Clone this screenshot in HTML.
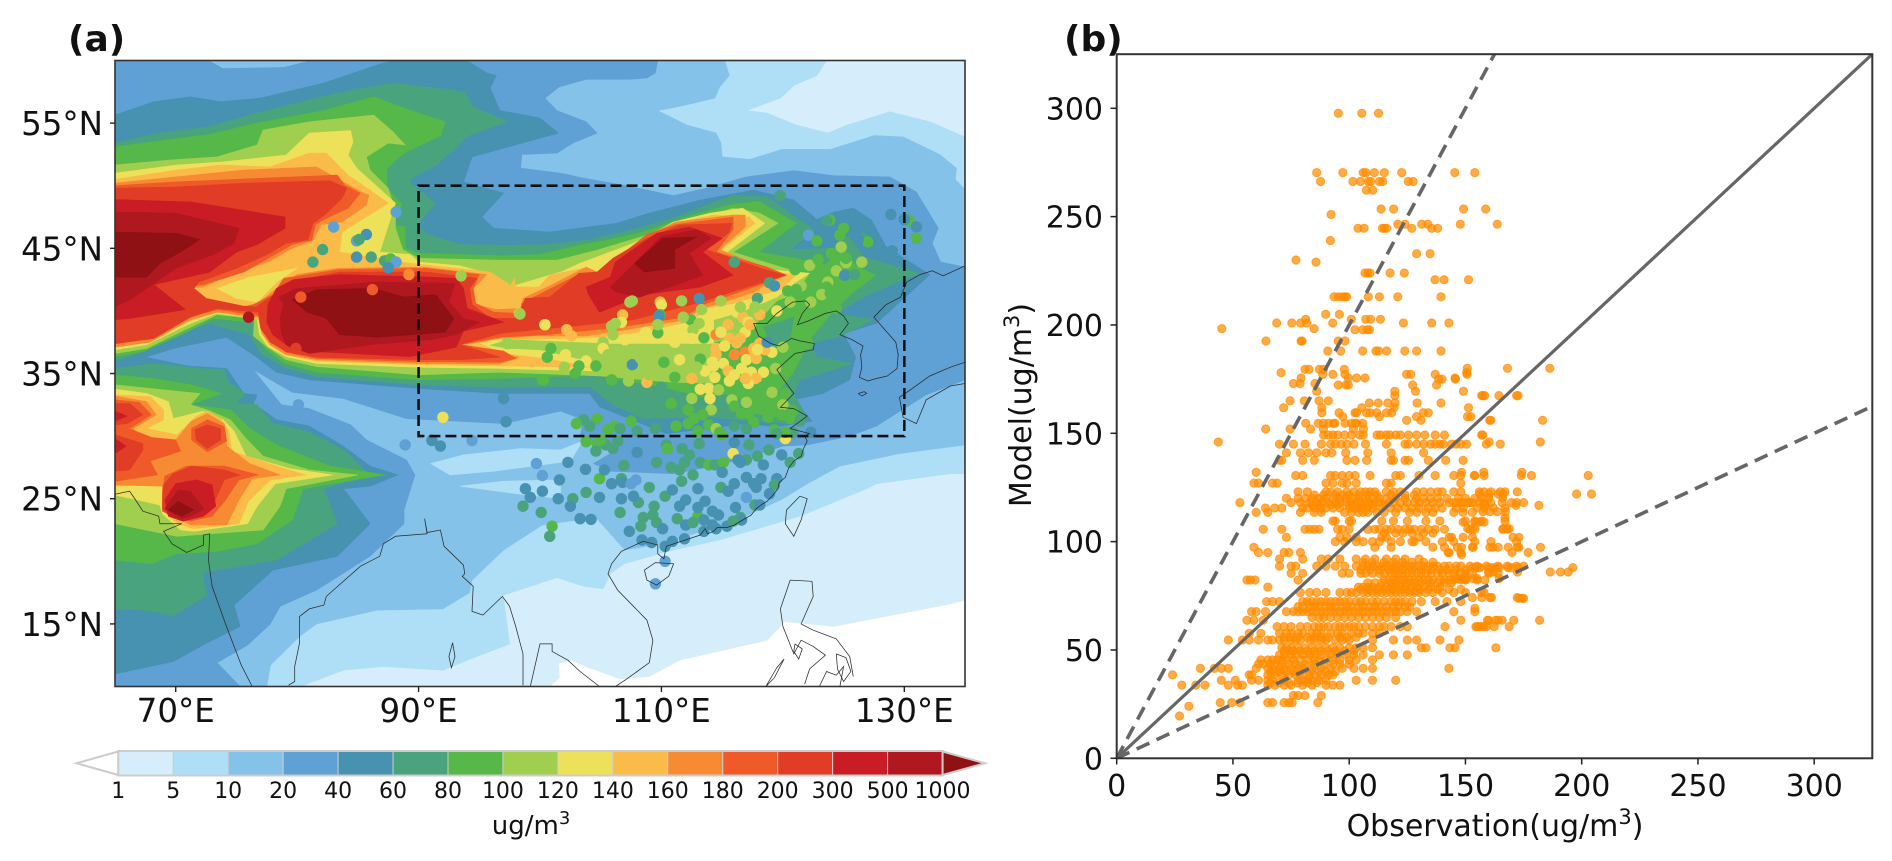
<!DOCTYPE html>
<html lang="en">
<head>
<meta charset="utf-8">
<title>PM concentration map and model-observation scatter</title>
<style>
html,body{margin:0;padding:0;background:#fff}
svg{display:block;font-family:"DejaVu Sans","Liberation Sans",sans-serif}
</style>
</head>
<body>
<svg id="figure" xmlns="http://www.w3.org/2000/svg" width="1892" height="861" viewBox="0 0 1892 861">
<rect width="1892" height="861" fill="#fff"/>
<defs><clipPath id="mapClip"><rect x="115" y="60.5" width="850" height="626"/></clipPath><clipPath id="scatterClip"><rect x="1116.7" y="54.2" width="755.6" height="704.1"/></clipPath></defs>
<g id="contours" clip-path="url(#mapClip)"></g>
<g id="stations" clip-path="url(#mapClip)"></g>
<g id="coast" clip-path="url(#mapClip)" fill="none" stroke="#2a2a2a" stroke-width="0.75"></g>
<g id="regionBox"></g>
<g id="mapAxes"></g>
<g id="colorbar"></g>
<g id="scatter" clip-path="url(#scatterClip)"></g>
<g id="refLines" clip-path="url(#scatterClip)"></g>
<g id="scatterAxes"></g>
<text x="68" y="51" font-size="36" font-weight="bold" fill="#111">(a)</text>
<text x="1064" y="51" font-size="36" font-weight="bold" fill="#111">(b)</text>
<text x="531" y="834" font-size="26" text-anchor="middle" fill="#111">ug/m<tspan font-size="18" dy="-10">3</tspan></text>
<text x="1495" y="836" font-size="30" text-anchor="middle" fill="#111">Observation(ug/m<tspan font-size="21" dy="-12">3</tspan><tspan dy="12">)</tspan></text>
<text transform="translate(1031 405) rotate(-90)" font-size="30" text-anchor="middle" fill="#111">Model(ug/m<tspan font-size="21" dy="-12">3</tspan><tspan dy="12">)</tspan></text>
</svg>
<script>
// ---------- Panel (a) data ----------
const levelValues=[1,5,10,20,40,60,80,100,120,140,160,180,200,300,500,1000];
const levelColors=["#d6eefb","#aedff7","#85c2e9","#5fa0d5","#4791b1","#49a47d","#55b848","#a0cf50","#ede15a","#fbbb48","#f68b33","#f05a28","#e03c26","#c91c24","#b0181f","#8f1114"];
const mapLonTicks=[70,90,110,130];
const mapLatTicks=[55,45,35,25,15];
// each region: [level index, flat lon,lat list]
const contourRegions=[
[0,[65,60,135,60,135,16.9,133.8,16.6,126.9,15.3,124.2,14.8,120,15.2,119.8,14.8,118.7,13.7,111.5,12.1,109,10.8,106.6,10.6,103.5,11.7,102.6,12.1,101.5,11.85,101.6,10.7,100.8,10,65,10]],
[1,[65,60,123.6,60,122.8,58.8,120.9,58,119.8,57,117,56,118.7,55.8,121.1,54.85,123.7,54.2,125.3,54.85,128.8,55.9,132.1,55.1,135,53.9,135,27,133.8,27,127.7,26.2,126.9,25.8,121.4,23.6,120,23.2,114.8,21.7,111,20.9,106.9,19.8,105.8,19,105.2,17.8,103.6,18,101.4,18.7,96.7,17.2,97,17,97.5,13.4,94.8,12.4,92,11.3,87.1,11.6,83.8,11.3,80.8,10.2,80.5,10,65,10]],
[2,[65,60,115.2,60,115.6,58.8,114.8,57.9,114.4,57,111.8,56.4,109.7,56,112.1,54.85,114.5,54.2,114.9,53.4,115,52.3,117.3,52.1,119.9,52.9,123.9,52.9,127.5,54,129.9,53.9,132.9,52.5,134.3,51.4,134.2,50.5,135,49.7,135,29.3,129.6,28.6,124.7,27.6,122,26.2,120,25,116,23.2,110,21.4,107,20.9,104.6,23.5,100.2,22.9,97,20.9,94.4,18.5,94.2,17.5,92,16.2,86.6,16.1,81.6,15,80.2,14,77.8,11.7,77.5,10,65,10]],
[3,[65,60,109.7,60,109.5,59,108.8,58.6,107.4,58.5,103.8,58.5,101.6,57.9,100.4,57,101.4,56,103.8,55.1,104.7,54.2,102.7,53.4,101.4,52.6,98.5,52.5,98.4,51.4,101.7,51,103.6,50.6,107.1,50,111,49.2,113.7,49.8,117,50.7,120.9,51.2,124.2,50.8,128.8,50.7,131,49.5,132.8,46.6,132.3,45.4,133,43.9,135,43.5,135,34.5,131.8,33.3,127.7,30.8,125.5,30,122,29.3,120,29.2,116.7,28.2,114.8,27.7,111,27,105.8,27.2,104.4,27.8,106.3,28.9,103.3,30,103.6,31.3,101.7,32,97,31,89,31.4,83.8,33,79.6,33.5,76.4,35.3,78.7,32.5,81,32.2,84.4,30.9,85.7,29.7,89,28.1,89.7,26.9,88.8,24.1,88.8,23,86,20.4,81.6,17.7,78.6,16.4,77.8,15,75.9,13.3,73.4,11.9,75.3,10,65,10]],
[4,[65,55.65,68.2,56.7,71.2,57.1,73.7,56.7,77,57,82.2,58.2,87.1,59.8,88,60,94,60,95.6,59,96.4,58.8,95.9,57.8,96.7,56,100,55.4,101.5,54.2,100,53.8,94.4,52.3,93.7,50.3,97,49.4,95.2,47.5,96.2,46.6,100.8,46.3,106.3,47,109,47.8,113.2,48.85,117.6,49.65,120.9,48.85,122.8,47.3,124.2,47.9,125.8,48.2,127.3,47.25,128.5,45.1,132.1,42.9,127.7,39,125,38.2,126,36.3,125.5,34.5,123.3,33.4,120.9,32.9,122.4,31.2,119.5,30.75,117,31,110.4,30.2,104.9,32.35,104.1,33.4,96.7,33.4,90,33.8,81,34.5,78.3,35.1,76.4,36.5,74.2,37.9,69.8,37,67.5,36.3,71,35.6,74.2,35.4,75.6,33.4,76.7,33.3,76.4,32.6,78.3,31.3,81,30.8,83.8,29.2,86,27.6,88.3,26.9,86,26,83.8,25.8,86,23,83.3,20.4,78,19.3,74.8,16.5,75.3,14.8,72.6,13.5,69.8,12,65,11]],
[5,[65,53.4,68.7,54.2,72.6,54.7,76.7,55.8,81,56.85,84.6,57.65,87.9,58.2,93.8,57.5,94.5,56.3,97.3,55.1,94.1,54,91.5,51.65,89.4,50.6,89.3,50.2,91.4,48.6,89.9,46.9,90.7,46.1,93.4,45.3,97,45.25,100.8,45.3,104.1,45.7,107.7,46.5,111.2,47.5,115.9,49.25,118.7,49.1,122.6,46.45,120.6,44.9,124.2,45,125.4,46,126.7,44.3,131.2,43,127,41.3,124.4,39.8,127.4,39.3,124.8,38,122.2,37.4,122.8,36.3,125.8,35.8,121.4,34.5,120.9,33.4,122,31.5,120.6,31,117.5,31.2,114,31.5,108.5,31.4,106,32.5,104.1,33.95,96.7,33.9,90,34.1,81.6,34.75,78.9,35.5,77,36.6,76.1,38.1,72.8,39,71.2,38.6,67.5,36.8,65,36]],
[5,[65,35.4,68.2,35.8,72,35.4,74,35.3,74.3,34.35,75.7,33.4,75,32.6,76.7,32.5,78,31,80.9,30.35,83.8,28.9,86,26.9,82.2,25.8,83.3,23,78.3,20.1,72.3,19.1,72.3,18.25,72.6,17.3,69.9,15.7,67.3,16.1,65,16.2]],
[6,[65,53.1,72.8,54.1,76.7,55,82.2,56,86.3,57.1,89.4,56,92.2,55.1,91.8,54,88.8,52.6,87.4,51.4,87.4,49.8,88.6,48.5,87.9,46.9,88.9,46.7,88.9,45,90,44.6,96.7,44.4,100,44.5,103.3,45.25,105.5,45.65,108.5,46.3,112,47.5,115.6,48.45,118,48.75,121.1,47,118,44.7,121,44.2,123.5,43.7,125,45,126,43.6,127.6,42.85,125.8,41.5,124.2,40.05,122.2,37.7,121,35.3,119.5,33.4,121.1,32.1,120.2,31.4,117.8,31.8,115.9,33.4,113.4,33.15,109.9,33.95,104.4,34.9,96.7,34.6,90,34.5,81.6,35.1,79,35.8,77.5,36.9,76.7,37.8,76.4,39.1,73.1,39.4,70.9,38.3,67.3,36.75,65,36.35]],
[6,[65,34.9,68.2,34.6,71.3,34.1,73.8,33.4,71.2,32.5,74.5,32.1,76.1,30.6,78.3,29.3,82.7,27.6,87.2,26.9,80.5,25.8,79.6,23.3,76.7,21.4,73.4,20.8,70,20.6,68,19.8,65,20.1]],
[7,[65,51.65,69.5,52.05,73.4,52.3,76.7,53.25,77.2,54.45,81,55.1,86.3,55.65,87.9,54.3,88.9,53.25,87.5,53.4,85.7,52.3,86,51.25,87.5,49.8,88.1,47.9,88.1,46.6,88.7,44.9,90,44.2,96.7,44.05,101.4,44.05,104.7,44.85,109.3,46.2,112,47,115.9,48.2,118.1,47.8,119.6,47,115.9,44.7,118.5,43.9,122.1,42.85,120.8,41.3,119.5,40.8,116.8,38,114.3,37.5,114.3,34.2,111,34.3,105,34.8,96.7,35.1,90,34.9,81.6,35.55,79.1,36.1,77.5,37.15,76.4,38,76.5,39.4,73.4,39.7,71.2,38.7,67.6,37,65,36.6]],
[7,[65,34.1,72,33.4,71.2,32.5,72.6,32.1,74.5,31.3,75.8,29.8,77.2,28.4,81,27.3,85,26.9,79.1,25.8,78.6,24.4,77.2,22.5,72.8,22.2,70.1,22,65,23]],
[8,[65,51,70.1,51.65,73.9,51.9,79.1,52.45,81,54.2,84.4,54.4,84.6,53.5,84.2,52.45,84.9,51.4,88.1,48.6,86.8,44.7,89.3,44.5,90,43.9,93.4,43.6,95.3,43.1,97.5,41.9,101.7,43.1,103.3,43.8,107.7,45.4,111,47.1,114,47.8,116.7,48.2,118.5,47,115.4,44.7,118.7,43.3,122.2,43,120.9,42.2,119.5,41.1,116.5,39.9,114.3,39.3,114.3,37.4,105.2,37.4,104.5,35.2,96.7,35.4,90,35.5,81.6,35.8,79.1,36.35,77.6,37.15,76.9,38.1,76.7,39.4,73.4,39.8,71.2,39,67.6,37.3,65,36.9]],
[8,[65,33.75,67.6,33.4,69.4,32.75,69.8,31.4,72.3,32,73.9,31.3,74.8,30.4,75.8,28.4,79.4,27.4,82.9,26.9,78.2,26.2,76.7,24.4,75.9,23,71.5,22.4,70.4,22.5,68.9,23.8,68.7,24.5,65,25.3]],
[9,[65,50.5,70.1,51.25,73.7,51.65,77.8,51.5,81,52.6,82.4,52.6,84.2,50.85,86,49.65,87.5,48.6,83.7,46.3,83.5,44.7,86.6,44.2,89.3,43.8,95.9,43.1,98,41.8,97.9,42.6,97.5,41.9,99.9,41.9,100.8,42.85,103.6,43.4,105.2,42.9,108.2,45.4,111,47,114.3,47.65,117.2,47.5,117.7,47,114.7,44.7,119.2,43.15,121.1,42.85,119.8,41.7,115.9,40.6,113.7,40.2,112.5,39.15,107.7,38.2,104.9,37.9,98.6,37.7,96.7,37.9,95,37.4,97,36.6,101,36.1,104.1,35.5,96.7,35.6,90,35.7,81.6,36,79,36.5,77.7,37.3,77.1,38.2,77,39.3,73.5,39.9,71.2,39.2,67.6,37.6,65,37.2]],
[9,[65,33.3,67.9,33.15,69,32.1,69,31.3,67.6,30.6,70.1,30.1,71.7,31.6,72.6,32,73.7,31.4,74.4,30.4,74.6,28.8,78.3,27.6,80.7,26.9,77.8,26.5,76,24.8,75.2,23,71.5,22.6,70.1,23,68.9,24.2,68.9,26.1,65,26]],
[10,[65,50.2,70,50.7,75.6,51.25,81.6,51.5,83.5,50.45,85.3,49.5,85.9,49.25,85.7,48.45,83.7,47.1,82,46.9,81.3,45.65,79.6,45,77.8,44,76.1,43.4,73.7,42.6,72.3,41.9,71.2,41.9,72.5,40.6,75.5,40.2,76.4,40.3,78.3,41.8,80,42.9,83.3,43.4,90.4,43.5,95.6,42.9,94.5,41.8,94.7,40.5,96.4,40.1,98.4,40.2,98.6,41,100.8,42,103.8,43.5,105.2,42.9,108.5,45.9,111.2,47.1,115.9,47.65,116.9,47.65,116.9,46.7,114.8,44.9,120,42.9,117.6,41.5,114.5,40.5,113.2,40.2,112,39.3,107.1,38.5,103.8,38,99.4,38,96.7,37.8,93.7,37.3,96.7,36.6,98.3,36.3,96.7,35.75,90,35.8,81.6,36.1,79.1,36.5,77.8,37.3,77.1,38.2,76.8,39.5,73.4,39.9,71.2,39.3,67.9,37.5,65,37.1]],
[10,[65,33.2,67.6,32.75,68.4,31.7,66.5,30.6,67.3,29.7,70,29.7,71.3,31.2,72.6,31.8,74,31,74.2,29.2,76.1,27.8,78.6,26.9,76.3,26.6,75.2,24.9,74.2,22.9,71.2,22.9,70,23.6,68.9,24,68.9,26,65,26.1]],
[11,[65,50,70,50.3,83.3,50.85,83.9,50.05,85.2,49.4,84.2,48.2,82.4,47.4,81.5,46.9,81.2,45.65,79.6,45.3,75.6,43.1,72.3,42.1,71.2,42,72.2,40.9,75.5,40.3,76.4,40.5,78,41.3,78.9,42.6,83.5,43.3,90.7,43.4,95,42.9,94.5,41.8,94.7,40.6,96.2,39.9,98.4,39.8,98.5,40.6,100.3,41.5,103.4,43,104.9,43,106.2,44.1,108.8,46.1,111.2,46.9,115.9,47.5,115.9,46.5,114.5,44.7,118.7,43.5,120.3,42.85,117,41.7,113.7,40.6,111.8,39.5,106.6,38.7,100.5,38.1,96.7,37.9,93.4,37.3,97,36.8,98,36.2,96.7,35.9,90,35.95,81.6,36.2,79.1,36.7,78,37.5,77.4,38.3,77,39.6,73.5,40.1,71.2,39.6,68,37.8,65,37.35]],
[11,[65,32.9,67,32.7,68,31.7,66.2,30.6,68,29.9,70,29.7,70.4,28.8,67.9,28,68.5,26.9,65,26.4]],
[11,[71.3,30.6,72.6,31.3,74,30.75,74.2,29.6,72.6,28.75,71.3,29.7]],
[11,[69.1,26.8,70.9,27.6,74,27.6,76.8,26.9,75.2,26.5,74.1,24.9,73,23.6,71.2,23.2,69.8,23.6,68.9,24,68.9,25.4]],
[12,[65,49.8,70,49.9,75.6,50.2,82.7,50.4,84.1,49.8,83.7,49,82.3,47.7,81.3,47,80.9,45.7,79.1,45.4,77.5,44.5,75,43.4,71.9,42.3,71.5,41.8,72.5,41,75.5,40.4,76.6,40.3,77.5,40.9,79.7,42.4,83.5,43.1,90.7,43.1,94.8,42.6,94.2,41.8,94.4,40.5,95.9,39.4,98.1,39.4,98.8,41,100.8,41.1,103.2,43,104.7,43.1,106,44.2,108.8,45.8,111.5,46.85,115.8,47,115.6,46.3,113.7,44.9,118.5,43.3,120.2,42.85,116.7,41.8,113.2,40.7,107.7,39.3,104.9,39,100.7,38.6,96.7,38.2,93.4,37.3,96.7,36.3,93.4,36.1,90,36.1,81.6,36.3,79.1,36.75,77.8,37.5,77,38.6,76.8,39.9,73.4,40.2,71.2,39.5,68.2,37.8,65,37.4]],
[12,[65,32.6,66.2,32.6,67.3,31.7,66,31,65,30.9]],
[12,[65,30.1,67.3,29.4,67.3,28.9,66.2,27.3,65,27.2]],
[12,[71.6,30.5,72.6,30.9,73.7,30.6,73.7,29.7,72.6,29,71.7,29.7]],
[12,[69,26.1,69.8,27,71.3,27.6,74,27.3,75.3,26.9,74,26.5,73.2,24.8,72.3,23.7,70.9,23.3,69.4,23.7,68.9,24.2]],
[13,[65,48.9,71.3,48.7,79,47.5,79,46.6,76.7,45.3,75,44.7,72.8,43.1,68.2,42.1,70.8,40.1,66.2,39.4,65,39.3]],
[13,[77.6,40.5,78.3,41.8,79.7,42.5,83.5,42.9,90.7,42.7,93.1,42.6,93.7,41.8,94,40.2,97,39.1,93.7,38.4,93.1,37.1,89.3,36.35,81.6,36.75,79.4,37.1,78,38.1,77.5,39.1]],
[13,[103.8,41.9,105.8,42.7,106.2,43.9,109.6,46.2,112.3,46.7,115,45.8,113.4,44.7,115.9,42.85,113.2,41.9,108.5,41.3,104.9,39.9,104,41.3]],
[13,[65,32,66,31.6,65,31.2]],
[13,[65,29.8,65.9,29.2,65,28.6]],
[13,[69.1,24.9,70,26.2,71.7,26.5,73,26.1,73.3,24.4,72.3,23.6,70.6,23.2,69.4,23.6]],
[14,[65,47.9,70,47.8,75.2,46.6,74.8,45.4,73.1,44.5,70,43.4,66.4,41,65,40.3]],
[14,[78.5,41.1,80,41.8,86.6,42.3,93,42.2,92.5,40.7,93.7,39.4,95,39.1,93.1,38.1,91,37.7,86,37.3,81,36.6,79.1,37.3,78.7,38.2,78.6,39.4,78.9,40.6]],
[14,[105.8,41.9,107.8,43.8,109.9,45.9,112.9,46.5,114.1,45.8,112.3,44.6,113.4,42.85,110.7,41.9,108.2,41.1,106.3,41.5]],
[14,[69.1,24.2,70.2,25.7,71.2,25.6,72.3,24.2,71.5,23.7,70.5,23.4]],
[15,[65,46.3,70.1,46.2,72,45.7,70.5,44.75,68.7,43.8,67.6,42.7,65,42.7]],
[15,[79.6,40.9,81.6,41.7,86.3,41.8,88.8,41.1,91.4,41.3,92.9,39.4,92.2,38.3,86.6,37.9,83.5,38.1,82.4,39.4,80.8,39.9]],
[15,[107.8,43.8,110.1,45.8,112.9,45.9,111.1,44.9,111.1,43.4,108.6,43.1]],
[15,[69.4,24.1,70.2,24.8,71.5,24.1,70.5,23.6]],
// detail patches drawn above the nested levels
[7,[95.9,37.25,97.5,37.7,100,37.6,105.2,37.4,105.2,35.3,104,36,100,36.9,97.5,37]],
[8,[73.4,41.8,76.1,42.7,80,43.4,78.3,42.3,76.7,40.7,75,41]],
[5,[118.4,38.7,120.9,39.5,120.6,37.9,119.2,37.1]],
[2,[72.8,60,73.9,59.4,78.9,59.5,81,60]],
[1,[91,27.8,93.7,28.5,98.4,29,101.7,28.9,103.5,29.6,102.5,28,96.2,27.2,92.6,26.9]],
[1,[93.4,26,97,26.4,101.7,26.5,101.7,25,98.1,25.4]]
];
// each station: [longitude, latitude, concentration]
const stationRecords=[
[88.15,47.9,30],[83,46.7,30],[85.7,46.1,50],[84.9,45.6,30],[85.1,45.7,70],[82.1,44.9,70],[81.3,43.9,70],[84.9,44.3,50],[86.1,44.3,70],[87.2,44,70],[87.7,44.15,90],[88.15,43.9,30],[87.5,43.45,50],[89.2,42.9,170],[93.5,42.8,110],[80.3,41.1,190],[86.2,41.7,190],[76,39.5,700],[79.9,37,250],[98.3,39.8,150],[98.35,39.75,110],[100.4,38.9,130],[97.4,37.4,110],[100.9,37,90],[100.6,36.3,90],[100.3,34.5,90],[80.1,32.5,30],[92,31.5,130],[97,33,50],[97.2,31.15,50],[88.9,29.3,30],[91.1,29.65,50],[91.8,29.2,50],[94.4,29.65,30],
[119.76,49.2,70],[123.87,47.25,90],[123.6,47.2,70],[128.9,47.7,50],[130.2,47.3,90],[130.4,47.2,90],[131,46.7,50],[131,45.8,90],[130,47.3,50],[122.1,46.05,30],[122.8,45.6,90],[125,46.6,90],[126.9,46.6,50],[126.6,45.8,70],[127,45.5,90],[124.7,46.05,90],[124.8,45.1,110],[116,43.9,60],[122.2,43.65,110],[126.5,43.9,110],[125.2,43.85,110],[124.4,43.2,110],[125.1,42.85,50],[123.7,42.3,110],[123.6,41.9,90],[123.2,41.3,110],[123.9,41.4,90],[121.5,42,110],[118.9,42.25,70],[119.3,42,40],[120.4,41.6,90],[121.2,41.2,90],[120.6,40.7,110],[122,41.1,90],[124.4,40.2,90],
[107.4,40.7,110],[107.6,40.8,110],[109.9,40.7,150],[110,40.5,130],[111.66,40.8,110],[113.1,41,50],[114.9,40.8,110],[113.3,40.1,110],[112.4,39.3,90],[109.9,39.7,90],[109.8,39.6,50],[106.8,39.67,150],[106.7,39.1,130],[105.9,38.8,110],[106.2,39,110],[106,38.1,110],[100.4,38.9,130],[102.2,38.5,150],[102.6,38,150],[105.2,37.5,110],[105.2,37,130],[97.25,37.4,110],[102.1,36.5,130],[104.1,36.5,110],[103.8,36,130],[103.2,35.6,90],[104.6,35.6,90],[102,35.5,110],[102.9,35,90],[100.2,34.5,90],[107.6,35.7,50],[109.7,38.25,90],[111.1,37.5,130],[112.6,38.5,110],[112.5,37.8,130],[113.5,37.85,90],[114.5,38.1,170],[115.6,37.8,150],[116.2,37.45,150],[115.5,38.9,150],[116.2,39.9,130],[116.7,39.5,150],[117.15,39.1,130],[116.9,38.3,130],[117.9,41,60],[119.5,40,130],[118.1,39.7,150],[116.5,40.3,110],[117.7,40.3,110],
[114.5,37,150],[114.5,36.5,150],[116,36.5,170],[116.9,36.7,170],[117,36.1,130],[117.7,36.7,150],[117.8,36.2,150],[117.6,37,150],[118.1,37.4,150],[119.1,36.7,130],[118.5,36.9,150],[118.7,37.5,50],[120,37.1,110],[122.1,37.4,90],[111.5,36.1,130],[113.2,36.15,90],[114.2,35.9,130],[115.1,35.8,130],[115.5,35.2,150],[116.6,35.4,130],[117.4,35.1,130],[118.4,35.1,130],[117.8,34.6,150],[117.15,34.2,130],[115.6,34.4,130],[114.4,34.7,130],[112.5,34.6,150],[111.1,34.7,90],[108.8,34.3,150],[109,34.9,110],[107.3,34.4,110],[105.9,34.5,90],[113.2,33.75,130],[113.9,33.8,130],[114,33,130],[114.7,33.7,110],[112.5,33,110],[115.8,32.9,110],[117,32.7,110],[114.1,32.1,110],[119.1,33.5,110],[120.2,33.4,90],[118.3,33.9,90],[119.4,35.4,110],[110,33.9,70],[110.8,32.6,90],[112.2,32.1,90],[113.4,31.7,90],[116.6,31.8,90],[117.2,31.8,90],[118.4,32.2,90],[119.5,32.3,90],[120,32.5,110],[120.8,32,90],[117.6,31.1,90],[112.2,31,90],[111.2,30.8,90],[113.9,30.9,90],[114.5,30.6,110],[114.8,30.3,90],[107.5,31.2,90],[104.7,31.4,90],[103.6,31.3,70],[104.1,30.8,70],[105.6,30.5,90],[106.1,30.8,90],[106.6,30.6,70],[109.5,30.6,70],[117,30.6,70],[119.3,30.5,90],[120.8,30.3,70],[122.3,30.3,50],[120.2,29.8,130],[103,31,90],
[103.8,29.55,90],[104.7,29.4,90],[104.6,28.8,70],[105.4,29.3,70],[106.4,29.6,70],[110.4,29.3,70],[110.5,29,90],[111.7,29,70],[113.1,29.4,70],[112.3,28.5,70],[113.2,27.9,70],[111.9,27.9,70],[113.9,27.7,90],[114.4,27.7,70],[115.1,27.9,90],[115.9,28.6,130],[116.3,28.1,50],[117,28.1,70],[117.9,28.4,70],[118.85,28.9,70],[119.9,28.5,50],[117.2,29.3,70],[116,29.5,50],[120.6,27.9,70],[121.3,28.6,70],[99.7,27.8,30],[102.3,27.9,50],[100.2,26.85,30],[103.75,27.35,50],[101.6,26.5,50],[104.9,26.6,90],[105.3,27.3,50],[106.9,27.66,70],[106.7,26.6,70],[105.9,26.2,50],[106.8,26.3,50],[107.5,26.2,30],[107.9,26.5,30],[98.8,25.8,50],[99.2,25.1,50],[100.2,25.6,50],[98.6,24.4,70],[100.1,23.9,70],[101,22.8,90],[100.8,22,70],[101.5,25,50],[102.7,25,70],[102.5,24.4,50],[103.8,25.5,70],[104.9,25.1,50],[103.3,23.4,50],[104.2,23.35,50],[106.6,23.9,70],[108.1,24.7,70],[107.35,22.4,50],[108.3,22.8,70],[109.4,24.4,70],[109.3,23.7,70],[109.6,23.1,70],[110.1,22.6,50],[110.3,25.2,70],[111.5,24.4,50],[111.3,23.4,70],[113,25.8,50],[111.66,26.4,70],[112.6,26.9,70],[111.5,27.3,70],[115,27.1,50],[114.9,25.9,70],[113.6,24.8,50],[113,23.6,90],[112,22.9,50],[112.6,23.1,70],[113.5,23.3,50],[113.5,22.4,40],[114.5,22.6,50],[114.7,23.7,50],[115.4,22.8,50],[116.5,23.5,70],[116.6,23.3,50],[116.1,24.3,50],[117,25.1,30],[117.7,24.5,70],[118.1,24.5,50],[117.6,26.2,50],[118.2,26.6,50],[119.5,26.6,50],[119.3,26.1,70],[118.9,25.4,50],[108.4,21.7,50],[109.2,21.5,50],[110.3,21.2,40],[110.9,21.6,50],[111.9,21.8,50],[110.3,20,30],[109.5,18.2,30],
[114.9,38.3,130],[115.2,37.2,130],[116.5,37.8,150],[117.3,38.9,150],[113.6,35.2,130],[114.3,35.6,130],[116,34.9,130],[116.9,34.6,150],[117.9,36.9,130],[112.9,35.5,110],[111.9,35.3,110],[110.2,35.9,90],[109.4,36.6,110],[108.3,36.2,110],[106.7,36,110],[105.6,36.5,110],[107,37.7,130],[108.7,38.3,130],[109.7,38.9,110],[111.8,39.5,110],[113.1,39,110],
[124,44.6,90],[125.2,44.2,90],[122.9,44.1,90],[121,43.3,90],[122.3,40.7,110],[121.1,41.7,90],[125.9,42.9,70],[127.5,44.6,50],[126.2,45.7,50],[129,44.8,50],
[116,30.8,70],[115,30.1,90],[113,30.4,90],[112.7,31.4,90],[116,32.4,90],[118.8,31.5,90],[119.9,31.7,90],[120.6,31.4,90],[121.4,31.2,70],[120.2,30.3,90],[119.5,30.2,70],[108,30.4,70],[105,29.7,90],[106,29,70],[108,28.7,50],[109.6,27.9,70],[110.8,27.5,70],
[117,26.7,50],[118.4,27.7,50],[116,26.2,50],[115.5,25.6,50],[116.5,27.9,50],[114.2,24,50],[113,24.3,50],[112,24.9,50],[110.9,25.7,50],[109,25.9,70],[107.7,25.2,50],[108.5,23.5,70],[106.7,25,50],[114.2,22.9,50],[115.9,23.2,70],[117.8,25.9,50]
];
// coastlines as lon,lat polylines
const coastlines=[
[65,25.35,66.2,25.6,66.7,24.9,67.3,24,68.6,23.6,68.7,23,70.5,23,69,22.4,69.7,21.4,70.9,20.7,72.3,21.3,72.3,22.1,72.8,22.2,72.7,20.1,73,18,74.1,15,75.4,11.7,76.3,10],
[79.3,10.1,79.8,10.4,79.8,11.6,80.2,13.5,80.2,15.6,81,16.2,82.2,16.5,82.4,17.2,85.2,19.6,86.8,20.4,87.1,21.4,88.1,22,90.7,22.2,90.5,23.4,90.7,22.3,91.8,22.5,92.1,21.2,93.7,19.7,93.8,19,93.6,18.8,94.5,18,94.4,16,95.3,15.7,96.9,17.2,97.5,16.4,98,14.8,98.6,12.6,98.6,10.1],
[99.2,10,100,13.4,101,13.4,101,12.8,102.3,12.1,103.3,11.2,104.9,10],
[106.2,10,107,10.5,109,11.9,109.3,13.7,108.8,15.3,106.4,17.7,105.6,19,105.9,19.8,106.7,20.8,108.5,21.6,109.7,21.3,109.7,20.6,110.2,20.2,110.4,21.2,113.2,22.1,113.6,22.6,113.8,22.2,114.3,22.4,114.6,22.7,115.4,22.7,116,22.9,116.7,23.3,117.4,23.7,117.8,24.2,118.2,24.5,118.7,24.8,119.2,25.3,119.6,25.8,119.7,26.3,120.2,26.7,120.5,27.5,120.9,28,121.5,28.4,121.7,29,122,29.6,121.8,30,122.2,30.2,120.6,30.6,122,31.6,120.9,32.2,119.8,32.3,120.9,33.4,120,34.6,119.5,35.3,120.3,36,121,36.6,122.5,36.9,122.6,37.4,121.4,37.6,120.7,37.8,119.7,37.2,119,37.4,118,38,117.6,39,118.7,39,119.5,39.8,120.8,40.7,121.9,40.8,122.2,40.5,121.6,39.8,121.2,38.9,122.1,39.2,123.5,39.8,124.4,40,125,39.6,125.4,39,125.1,38.6,124.7,38.1,125.7,37.7,126.6,37.2,126.4,36.5,126.5,35.5,126.3,34.7,127,34.4,127.7,34.6,128.6,34.8,129.4,35.4,129.5,36.5,129.3,37.5,128.3,38.6,127.5,39.5,128.5,40.5,129.7,41.1,130.2,42.3,131.3,42.9,132.3,43.2,133.2,42.8,135,43.6],
[135,35.9,133.8,35.5,132.1,34.8,130.5,33.7,129.6,33.1,129.9,31.5,131,31,131.8,32.9,133.8,34,135,34.2],
[126.2,33.4,126.7,33.55,126.9,33.4,126.5,33.2,126.2,33.4],
[121.4,25.2,122,25,121.5,23.3,120.9,22,120.2,23,120.3,24.1,121.4,25.2],
[108.6,19.3,109.5,19.9,111,19.8,110.6,18.8,109.6,18.1,108.8,18.5,108.6,19.3],
[120.6,18.5,122.4,18.4,122.5,17.2,121.5,15,122.5,14.5,124.4,13.8,125.5,12.4,125.8,10.8],
[120.6,18.5,119.8,16.2,120,14.8,120.9,12.6,121.5,13.7,122.5,13.2,123.5,12.5,122.2,11.4,121.8,10.2],
[118.6,10,119.5,11.5,120.1,12.2,119.3,10.7,118.6,10],
[123,10,123.6,11.2,124.4,10.9,125,11.6,124.7,10],
[121,13.4,121.6,13,121.3,12.2,120.9,12.8,121,13.4],
[124.4,12.6,125.2,12.3,125.6,11.2,125,10.4,124.5,11.4,124.4,12.6],
[92.8,13.5,93,12.4,92.7,11.5,92.5,12.4,92.8,13.5]
];
const boxLon=[90,130];
const boxLat=[30,50];
// ---------- Panel (b) data ----------
const scatterXTicks=[0,50,100,150,200,250,300];
const scatterYTicks=[0,50,100,150,200,250,300];
const refSlopes=[1,2,0.5];
// rows of the scatter: modelLevels[i] is the modelled value shared by all observations obsAtLevel[i]
const modelLevels=[297.7,270.3,266.2,262.2,253.5,251,246.5,244.6,239,232.9,230,229,224,220.9,213,204.9,202.6,200.9,197.8,198.3,192.6,188,180,179.5,178,177.2,175.5,175,173,172.3,169.4,167.4,165,164,161.8,159.5,157.7,156,154.6,152,149.2,146,145,141,137.5,132,130.5,127,123,122,120,118,116.7,115.5,113.8,113.5,111,109.5,109,106,105.7,102,100,97.4,95,94,92,88.7,88,86,85.4,83,82.3,79,76.5,74.2,73.8,72.3,69.2,67.7,63.7,60.8,57.7,54.6,51,47.7,45.4,41.5,38.5,36,33.8,29,25.7,24,19.5,
70,65,55.8,49.5,43.5,40,34.9,78,81,87,90.5,117,121.5,104];
const obsAtLevel=[
[95.3,105.4,112.6],
[86,97.3,106,107.2,110.8,115.1,122.6,145.4,154],
[87.7,101.6,104.8,108.2,109.2,113,114.4,125.4,127.5],
[107.4,110.1],
[113.7,119.1,149.2,158.7],
[92.2],
[120.9,124,131.2,133.8,147.8,163.7],
[103.8,106.4,114.3,115.1,116.1,126.9,135.5,138],
[91.9],
[129,134.8],
[77.1],
[85.7],
[106.8,108,109,117.6,123.7],
[136.9,140.8,151.3],
[93.5,95.3,97.1,98.2,98.9,108.2,113,120.9,139.5],
[89.9,95.8],
[81.3,100.9,107.1,109.2,113.4],
[68.8,75.3,79.1,81.7,92.9,123.3,135.5,142.9],
[102.5,105.8,107.8,108.7],
[45.2,84.9],
[64.2,79.3,79.7,95.3,98.2],
[90.8,96.3,105.8,111.5,112.7,116.1,123.9,129,139.5],
[150.8,168.1,186.3],
[81,82.7,87.2,88.9,97.9],
[70.7,150.5],
[88.6,93,98.2,124.7,126.5,137,150.7],
[79.3,99.6,103.2,106.8,145.5],
[138.5,139.9,145.7],
[76,78.9,85.3],
[95.3,98.6,99.6,127.3,137.6],
[86,119.6,128.5,149.1],
[119.6,157,157.4,158.3,164.4,172,172.6],
[74.6,80.7,87,91],
[108.7,112.5,116.6,119.7,129.2,139.5],
[71.8,88.2,105.4,119.3,151.3],
[88.2,95.6,102.5,103.2,107.5,109,111.8,116.1,118.3,131.9,134],
[97.2,113,129,150.9,152.3],
[124.7,130.9,160.4,160.9,183.2],
[81.3,86.7,88.9,91,93.2,93.9,98.2,101,102.5,103.2,105.8],
[64.1,74.6,83.4,88.9,101.8,106.1],
[89,91,93,95,98,101,104.5,106,112,113.5,116,117.5,120,122,125.5,129,132.5,137,141,157,157.4],
[43.7,160.2,182.2],
[70,76,81,88,92,94,96.5,99,102,107,116,124,125.5,129,132,135,137,139,140.5,144,146,148,150.5,159,165],
[73,79,82.5,86,90,92.5,98.5,108,118,132],
[70,71,80,85,99,102.5,107.5,118,119,124,125.5,134,141.5,149],
[60,148.3,157.9,174.3],
[77,80,92,94,97,100,102.5,109,120,122,130,137,145,148,153.8,154,158,174,178.4,202.8],
[59,61,67,69,90,93,97,99,103,116,118,148],
[78,82,90,92,95,99,102,105,107,109,111,116,119,122,129,132,135,138,140,145,148,156,158,161,165,167,172.3],
[156.2,160.1,164.1,166.2,197.8,204.2],
[73,78,81,84,87,90,93,96,98.5,101,104,107,110,113,116,120,124,129,132,135,138,142,147,150,154,157,160,166],
[53,75,79,83,86,88,91,94,96,99,101,103,105,107,109,111,113,117,119,122,125,128,130,133,136,139,143,145,146,148,149,151,152,153,156,158,160.8,165.8,169.8,172,175],
[158.4,171.7,181.6],
[64,68,71,80,82,85,88,90,93,96,100,102,104,106,108,110,114,118,121,124,127,130,134,137,140,146,149,155,158,162,167],
[157.6,160.5,163.7,167.2],
[60,65,79,85,88,98,101,104,106,108,112,115,120,126,129,133,136,145,149,153],
[167],
[93,94,100,101,114,119,125,133,139,150,154,157,167],
[149,154,156,158],
[151,153,166.2,167.7,168.8],
[63,71,81,83,85,87,95,97,100,108,111,113,116,118,121,124,126,128,131,134,137,141,152,154,166,168],
[73,96,99,103,114,116,130,143,144,149,153,170.5,173],
[94,98,103,106,110,113,118,122,127,128,133,140,145,154,161,172],
[59,111,118,136,141,146.5,148.3,153,153.3,160.5,161.7,164.1,168.4,172.3,173,182.3],
[61,65,72,74,79,142.6,143,148,170,177],
[148.3],
[70,80,88,91,96,103,107,111,116,120,124,130],
[70,75,77,86,90,94,98,103,106,108,110,112,114,116,118,120,122,124,126,128,130,132,134,136,138,141,143,146,148,152,155,159,164,168,172,175],
[153.3,154.5,155.5,156.2,159.8,161.2,162.7,164.5,168.4,169.8,172.7,196.2],
[160,162,172.4,186.5,190.9,194.2],
[75,80,97,100,105,107,110,113,115,118,119.5,121,123,125,127,129,131,133,135,138,140,143,145,148,150,153,160,164],
[146,147,148.5,150,150.5,153.3,155,164.5],
[56,57.5,59.5,78,115,117,119,121,122.5,124,126,128,130,132,134,136,139,141,143,145,148,150,155,158.4],
[65,104,106,108,110,113,116,118,120,122,124,127,129,132,135,139],
[79,83,86,90,96,99,101,103,106,108,110,112,114,116,118,120,122,124,126,128,130,133,136,140,145,150,157,158],
[153,157,160.5,161.2,172.3],
[173,174.4,175],
[64.5,67,70,80,82,84,86,88,90,92,94,96,98,100,103,105,107,110,112,115,118,120,122,124,127,131,137,142,148],
[154],
[58,60,64,73,76,78,80,82,84,86,88,90,92,94,96,98,100,102,104,106,108,110,112,114,116,118,120,122,125,129,145,154],
[56,59,63,148,159.5,160,163,164.1,165.8,170.8,181.9],
[69,72,75,79,82,85,87,89,91,94,96,98,100,102,104,107,110,113,115,118,122,125,141.2,154.5,155,156,157,158,159,162.4,168.8],
[57,62,70,73,75,78,80,84,86,88,92,95,97,101,104,106,110,113],
[48,54,57,61,65,67,70,72,75,77,79,83,85,88,90,94,97,100,110,119,125,129,139,147.2],
[71,73,75,78,81,84,87,90,93,96,100,103,106,110,131,133,143.3,145.5,163.1],
[70,72,75,77,80,83,85,88,92,95,99,102,106,113,119,125],
[62,65,67,69,71,73,76,79,82,85,87,90,93,96,100,103,110],
[36,42,45,48,60,65,67,70,72,75,78,80,84,88,92,97,102,106,110,142.9],
[24,57,58,65,68,71,74,77,80,83,85,88,91,93],
[45,51,58,61,65,67,72,78,80,82,84,87,90,103,110,120],
[28,34,38,48,52,54,65,68,72,75,80,84,90,93,96],
[76,78,81,88],
[44.5,49.5,53,65,67,72,74,75.5,86.5],
[31],
[27],
[78,80,83,85,87,90,92,94,97,99,101,104,106,109,111,113,116,119,121,124,126],
[84,87,89,92,95,98,101,104,107,110,113,116,120],
[72,75,78,82,85,88,91,96,99,103],
[72,74,76,79,82,85,88,91,94,98,102],
[61,63,66,68,71,74,77,81,85,89,93,96,100],
[66,68,70,73,76,79,83,87,90,94],
[66,70,74,78,82,86],
[105,109,112,115,119,123,126,130,134,138,143,148],
[108,111,114,118,120,125,128,131,135,138,141,144],
[105,109,113,117,120,123,127,131,135,139,142,146,150],
[106,110,115,119,123,127,132,136],
[84,87,92,95,100,103,106,110,115],
[85,89,94,97,100,104,108,112,118,124,128],
[115,120,123,127,132,136]
];
// ---------- Axis functions ----------
const NS='http://www.w3.org/2000/svg';
const lonToX=lon=>115+(lon-65)*12.143;
const latToY=lat=>686.5-(lat-10)*12.52;
const obsToX=v=>1116.7+v*2.325;
const modelToY=v=>758.3-v*2.1667;
const cbarX=i=>118.3+i*54.95;
function node(tag,attrs,parent,text){
  const el=document.createElementNS(NS,tag);
  for(const k in attrs)el.setAttribute(k,attrs[k]);
  if(text!==undefined)el.textContent=text;
  parent.appendChild(el);
  return el;
}
function levelIndexFor(v){
  let idx=-1;
  for(let i=0;i<levelValues.length;i++){if(v>=levelValues[i])idx=i;}
  return idx;
}
function lonLatPath(list,close){
  let d='';
  for(let i=0;i<list.length;i+=2){
    d+=(i?'L':'M')+lonToX(list[i]).toFixed(1)+' '+latToY(list[i+1]).toFixed(1);
  }
  return d+(close?'Z':'');
}
// ---------- Draw map ----------
const contourLayer=document.getElementById('contours');
contourRegions.forEach(region=>{
  const col=levelColors[region[0]];
  const el=node('path',{d:lonLatPath(region[1],true),fill:col,stroke:col,'stroke-width':0.6,'stroke-linejoin':'round'},contourLayer);
  
  
});
const stationLayer=document.getElementById('stations');
stationRecords.forEach(rec=>{
  const el=node('circle',{cx:lonToX(rec[0]).toFixed(1),cy:latToY(rec[1]).toFixed(1),r:5.7,fill:levelColors[levelIndexFor(rec[2])]},stationLayer);
  
  
});
const coastLayer=document.getElementById('coast');
coastlines.forEach(line=>{
  const el=node('path',{d:lonLatPath(line,false)},coastLayer);
  
  
});
const boxEl=node('rect',{x:lonToX(boxLon[0]),y:latToY(boxLat[1]),width:lonToX(boxLon[1])-lonToX(boxLon[0]),height:latToY(boxLat[0])-latToY(boxLat[1]),fill:'none',stroke:'#111','stroke-width':2.6,'stroke-dasharray':'11 5'},document.getElementById('regionBox'));


const mapAxes=document.getElementById('mapAxes');
const mapFrame=node('rect',{x:115,y:60.5,width:850,height:626,fill:'none',stroke:'#333','stroke-width':1.6},mapAxes);


mapLonTicks.forEach(t=>{
  const x=lonToX(t);
  const tick=node('line',{x1:x,x2:x,y1:686.5,y2:692,stroke:'#222','stroke-width':1.4},mapAxes);
  
  
  const lab=node('text',{x:x,y:722,'font-size':32.5,'text-anchor':'middle',fill:'#111'},mapAxes,t+'°E');
  
  
});
mapLatTicks.forEach(t=>{
  const y=latToY(t);
  const tick=node('line',{x1:115,x2:110,y1:y,y2:y,stroke:'#222','stroke-width':1.4},mapAxes);
  
  
  const lab=node('text',{x:103,y:y+12,'font-size':32.5,'text-anchor':'end',fill:'#111'},mapAxes,t+'°N');
  
  
});
// ---------- Colour bar ----------
const cbar=document.getElementById('colorbar');
const cbTop=751.5,cbBot=775;
const leftTip=node('path',{d:`M${cbarX(0)} ${cbTop}L76.5 ${(cbTop+cbBot)/2}L${cbarX(0)} ${cbBot}Z`,fill:'#fff',stroke:'#ccc','stroke-width':2},cbar);


const lastIdx=levelColors.length-1;
const rightTip=node('path',{d:`M${cbarX(lastIdx)} ${cbTop}L985 ${(cbTop+cbBot)/2}L${cbarX(lastIdx)} ${cbBot}Z`,fill:levelColors[lastIdx],stroke:'#ccc','stroke-width':2},cbar);


for(let i=0;i<lastIdx;i++){
  const seg=node('rect',{x:cbarX(i),y:cbTop,width:cbarX(i+1)-cbarX(i),height:cbBot-cbTop,fill:levelColors[i],stroke:'#ccc','stroke-width':1},cbar);
  
  
}
const cbEdge=node('rect',{x:cbarX(0),y:cbTop-0.5,width:cbarX(lastIdx)-cbarX(0),height:cbBot-cbTop+1,fill:'none',stroke:'#ccc','stroke-width':2},cbar);


levelValues.forEach((v,i)=>{
  const lab=node('text',{x:cbarX(i),y:798,'font-size':22,'text-anchor':'middle',fill:'#111'},cbar,String(v));
  
  
});
// ---------- Scatter ----------
const scatterLayer=document.getElementById('scatter');
modelLevels.forEach((m,i)=>{
  obsAtLevel[i].forEach(o=>{
    const el=node('circle',{cx:obsToX(o).toFixed(1),cy:modelToY(m).toFixed(1),r:4.1,fill:'#ff8c00','fill-opacity':0.72,stroke:'#ff8c00','stroke-opacity':0.72,'stroke-width':1},scatterLayer);
    
    
  });
});
const refLayer=document.getElementById('refLines');
refSlopes.forEach(s=>{
  const xEnd=325;
  const el=node('line',{x1:obsToX(0),y1:modelToY(0),x2:obsToX(xEnd),y2:modelToY(xEnd*s),stroke:'#666','stroke-width':s===1?3.2:3.6},refLayer);
  if(s!==1)el.setAttribute('stroke-dasharray','14 8');
  
  
});
const sAxes=document.getElementById('scatterAxes');
const sFrame=node('rect',{x:1116.7,y:54.2,width:755.6,height:704.1,fill:'none',stroke:'#333','stroke-width':2},sAxes);


scatterXTicks.forEach(t=>{
  const x=obsToX(t);
  const tick=node('line',{x1:x,x2:x,y1:758.3,y2:764.5,stroke:'#222','stroke-width':1.5},sAxes);
  
  
  const lab=node('text',{x:x,y:796,'font-size':30,'text-anchor':'middle',fill:'#111'},sAxes,String(t));
  
  
});
scatterYTicks.forEach(t=>{
  const y=modelToY(t);
  const tick=node('line',{x1:1116.7,x2:1110.5,y1:y,y2:y,stroke:'#222','stroke-width':1.5},sAxes);
  
  
  const lab=node('text',{x:1103,y:y+11,'font-size':30,'text-anchor':'end',fill:'#111'},sAxes,String(t));
  
  
});
</script>
</body>
</html>
